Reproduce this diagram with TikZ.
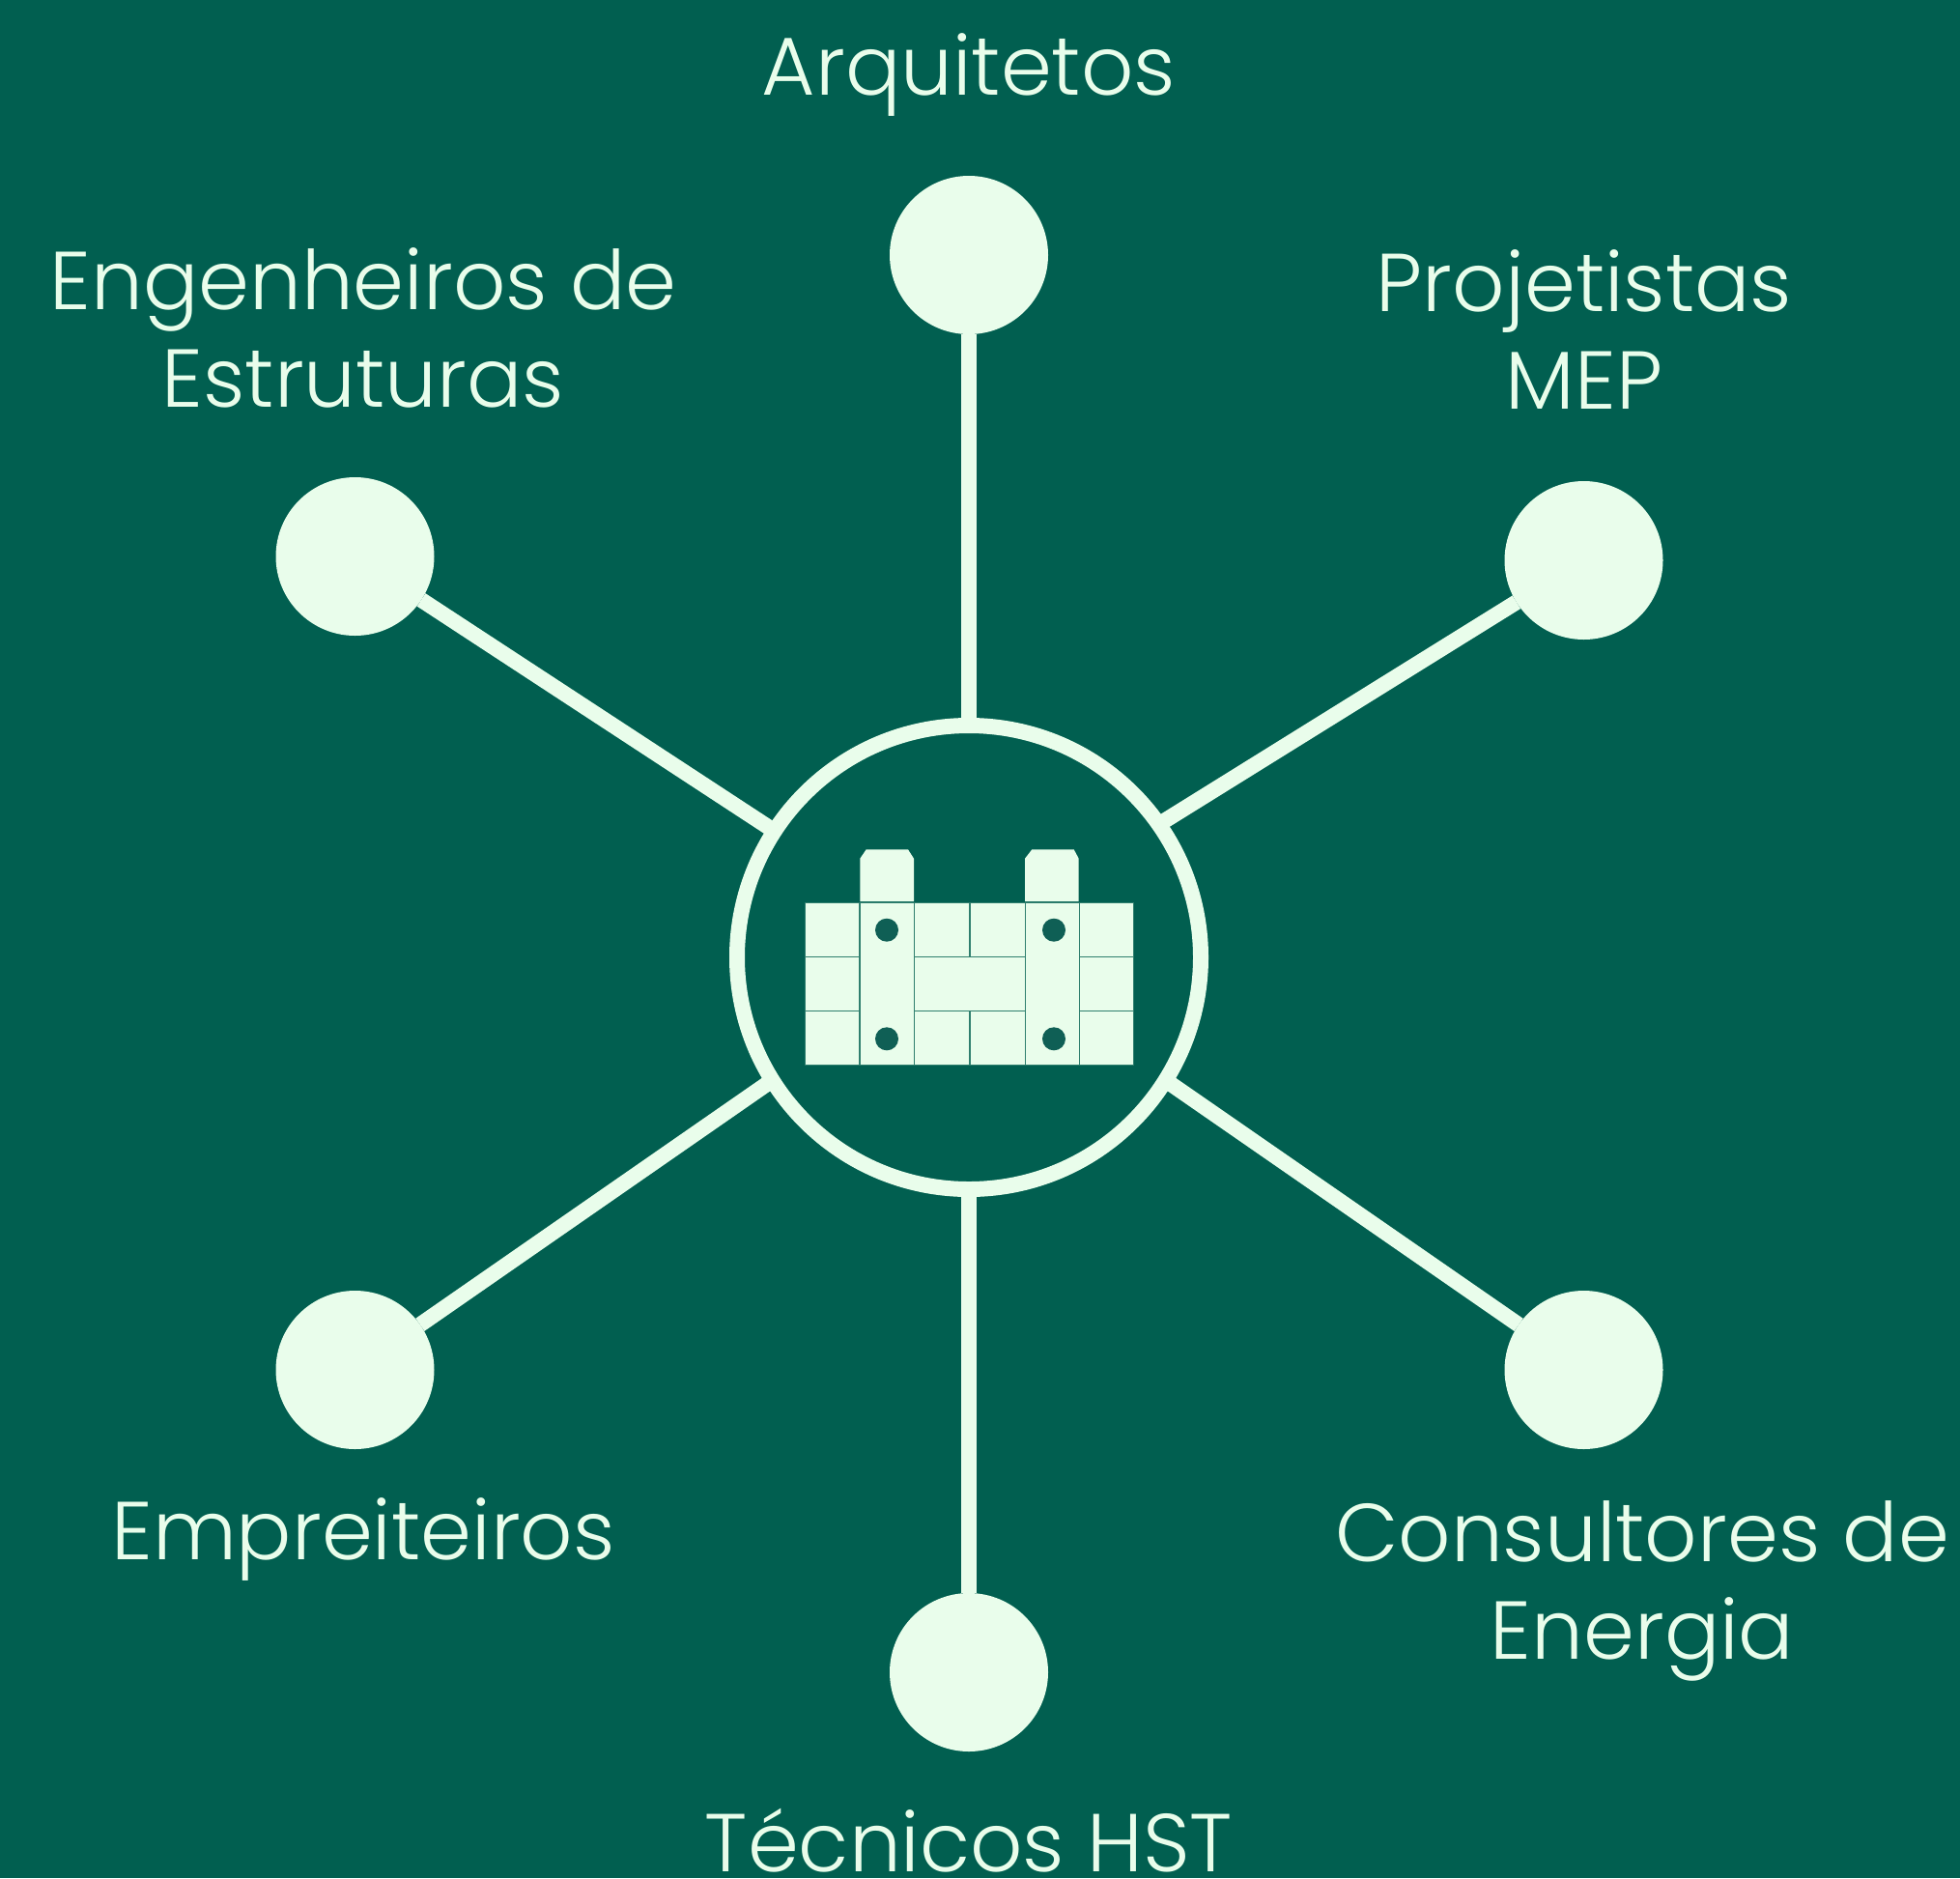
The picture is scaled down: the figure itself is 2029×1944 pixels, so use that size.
\documentclass[tikz,border=0pt]{standalone}
\usepackage{fontspec}
\setmainfont{Poppins Light}
\definecolor{bggreen}{HTML}{015F50}
\definecolor{mint}{HTML}{E9FDEB}
\definecolor{dotgreen}{HTML}{0F5F55}
\definecolor{tileedge}{HTML}{2F7F6E}
\tikzset{
  leaf/.style={circle, fill=mint, minimum size=82pt, inner sep=0pt, outer sep=0pt},
  hub/.style={circle, draw=mint, line width=8pt, minimum size=240pt, inner sep=0pt, outer sep=0pt},
  spoke/.style={draw=mint, line width=8pt},
  tag/.style={text=mint, align=center, inner sep=0pt, font=\fontsize{42.5}{50.5}\selectfont},
  tile/.style={fill=mint, draw=tileedge, line width=0.5pt},
  rivet/.style={fill=dotgreen},
}
\begin{document}
\begin{tikzpicture}[x=0.5pt,y=-0.5pt]
\fill[bggreen] (0,0) rectangle (2029,1944);
\useasboundingbox (0,0) rectangle (2029,1944);
\node (hub) [hub] at (1003,991) {};
\node (arq) [leaf] at (1003,264) {};
\node (mep) [leaf] at (1639.5,580) {};
\node (est) [leaf] at (367.5,576) {};
\node (emp) [leaf] at (367.5,1418) {};
\node (ene) [leaf] at (1639.5,1418) {};
\node (hst) [leaf] at (1003,1731) {};
\draw[spoke] (hub.90) -- (arq);
\draw[spoke] (hub.35) -- (mep);
\draw[spoke] (hub.147) -- (est);
\draw[spoke] (hub.212) -- (emp);
\draw[spoke] (hub.-32) -- (ene);
\draw[spoke] (hub.-90) -- (hst);
% towers
\fill[mint] (890.3,933) -- (890.3,888.7) -- (896.7,879.3) -- (940,879.3) -- (946,888.7) -- (946,933) -- cycle;
\fill[mint] (1061,933) -- (1061,888.7) -- (1068.3,879.3) -- (1111.7,879.3) -- (1116.7,888.7) -- (1116.7,933) -- cycle;
% wall
\draw[tile] (833.7,934) rectangle (889.7,990);
\draw[tile] (833.7,990) rectangle (889.7,1046.7);
\draw[tile] (833.7,1046.7) rectangle (889.7,1102.7);
\draw[tile] (890.3,934) rectangle (946.7,1102.7);
\draw[tile] (946.7,934) rectangle (1003.2,990);
\draw[tile] (1004.2,934) rectangle (1061,990);
\draw[tile] (946.7,990.7) rectangle (1061,1046.7);
\draw[tile] (946.7,1046.7) rectangle (1003.2,1102.7);
\draw[tile] (1004.2,1046.7) rectangle (1061,1102.7);
\draw[tile] (1061.5,934) rectangle (1117.3,1102.7);
\draw[tile] (1117.8,934) rectangle (1173.7,990);
\draw[tile] (1117.8,990) rectangle (1173.7,1046.7);
\draw[tile] (1117.8,1046.7) rectangle (1173.7,1102.7);
\fill[rivet] (918,962.7) circle (6pt);
\fill[rivet] (918,1075.3) circle (6pt);
\fill[rivet] (1091,962.7) circle (6pt);
\fill[rivet] (1091,1075.3) circle (6pt);
% labels
\node (arqtag) [tag] at (1003,78) {Arquitetos};
\node (meptag) [tag] at (1640,341) {Projetistas\\MEP};
\node (esttag) [tag] at (376,339) {Engenheiros de\\Estruturas};
\node (emptag) [tag] at (376,1593) {Empreiteiros};
\node (enetag) [tag] at (1700,1647) {Consultores de\\Energia};
\node (hsttag) [tag] at (1003,1905) {Técnicos HST};
\end{tikzpicture}
\end{document}
